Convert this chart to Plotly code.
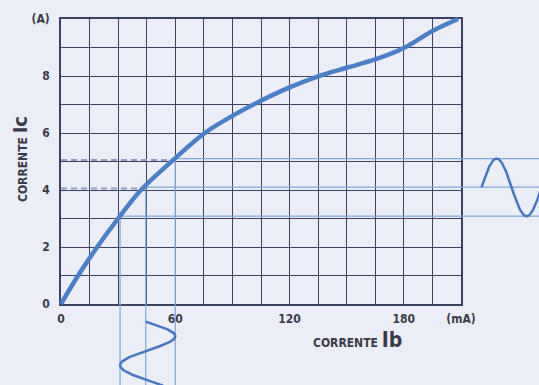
import numpy as np
import plotly.graph_objects as go

# ---- data ----
ib_ma = [0, 9, 19, 30, 42, 58, 75.5, 90, 101, 120, 135, 150, 165, 180, 195, 208.5]
ic_a = [0, 1, 2, 3, 4, 5, 6, 6.6, 7.0, 7.6, 7.99, 8.29, 8.58, 8.98, 9.58, 10.0]

x_ticks = [0, 15, 30, 45, 60, 75, 90, 105, 120, 135, 150, 165, 180, 195, 210]
x_ticktext = ["0", "", "", "", "60", "", "", "", "120", "", "", "", "180", "", "(mA)"]
y_ticks = [0, 1, 2, 3, 4, 5, 6, 7, 8, 9, 10]
y_ticktext = ["0", "", "2", "", "4", "", "6", "", "8", "", "(A)"]

# operating points used for the construction lines
op_ib = [31, 44.5, 60]      # input swing: min, centre, max (mA)
op_ic = [3.08, 4.1, 5.1]    # output swing: min, centre, max (A)

W, H = 539, 385
X_RANGE = [0, 210]
Y_RANGE = [0, 10]
x_dom = [61 / W, 461 / W]
y_dom = [(H - 304) / H, (H - 19) / H]

# full-figure overlay axis ranges matching the data scale
def full_range(rng, dom):
    span = (rng[1] - rng[0]) / (dom[1] - dom[0])
    return [rng[0] - dom[0] * span, rng[1] + (1 - dom[1]) * span]

x2_rng = full_range(X_RANGE, x_dom)
y2_rng = full_range(Y_RANGE, y_dom)

PAPER = "#eceef7"
GRID = "#3d4260"
THIN = "#7ea7da"
CURVE = "#4b80c8"
WAVE = "#4677c0"
DASH = "#8d9cc2"
TXT = "#3a3b4a"
FONT = "DejaVu Sans Condensed, Liberation Sans Narrow, Roboto, sans-serif"

fig = go.Figure()

# invisible trace to anchor the main axes
fig.add_trace(go.Scatter(x=[0], y=[0], mode="markers", marker=dict(opacity=0),
                         showlegend=False, hoverinfo="skip", xaxis="x", yaxis="y"))

def curve_at(v):
    return float(np.interp(v, ib_ma, ic_a))

def ib_at(v):
    return float(np.interp(v, ic_a, ib_ma))

# dashed lines from axis to curve (levels 4, 5)
for lvl in op_ic[1:]:
    fig.add_trace(go.Scatter(x=[X_RANGE[0], ib_at(lvl)], y=[lvl - 0.05, lvl - 0.05],
                             mode="lines", line=dict(color=DASH, width=2, dash="6px,4px"),
                             xaxis="x2", yaxis="y2", showlegend=False, hoverinfo="skip"))

# horizontal construction lines from curve to right edge
for lvl in op_ic:
    fig.add_trace(go.Scatter(x=[ib_at(lvl), x2_rng[1]], y=[lvl, lvl],
                             mode="lines", line=dict(color=THIN, width=1.2),
                             xaxis="x2", yaxis="y2", showlegend=False, hoverinfo="skip"))

# vertical construction lines from curve to bottom edge
for v in op_ib:
    fig.add_trace(go.Scatter(x=[v, v], y=[curve_at(v), y2_rng[0]],
                             mode="lines", line=dict(color=THIN, width=1.2),
                             xaxis="x2", yaxis="y2", showlegend=False, hoverinfo="skip"))

# output waveform (right side), time running to the right
t_out = np.linspace(0, 1.0, 120)
out_start = 220.8
out_period = 31.5
amp_up = op_ic[2] - op_ic[1]
amp_dn = op_ic[1] - op_ic[0]
s = np.sin(2 * np.pi * t_out)
out_y = op_ic[1] + np.where(s >= 0, amp_up, amp_dn) * s
out_x = out_start + out_period * t_out
fig.add_trace(go.Scatter(x=out_x, y=out_y, mode="lines", line=dict(color=WAVE, width=2.5),
                         xaxis="x2", yaxis="y2", showlegend=False, hoverinfo="skip"))

# input waveform (below), time running downward
t_in = np.linspace(0, 1.1, 130)
in_start = -0.62
in_period = 2.04
amp_r = op_ib[2] - op_ib[1]
amp_l = op_ib[1] - op_ib[0]
s2 = np.sin(2 * np.pi * t_in)
in_x = op_ib[1] + np.where(s2 >= 0, amp_r, amp_l) * s2
in_y = in_start - in_period * t_in
fig.add_trace(go.Scatter(x=in_x, y=in_y, mode="lines", line=dict(color=WAVE, width=2.5),
                         xaxis="x2", yaxis="y2", showlegend=False, hoverinfo="skip"))

# characteristic curve
fig.add_trace(go.Scatter(x=ib_ma, y=ic_a, mode="lines",
                         line=dict(color=CURVE, width=4.5, shape="spline", smoothing=1.0),
                         xaxis="x2", yaxis="y2", showlegend=False, hoverinfo="skip"))

axis_common = dict(showgrid=True, gridcolor=GRID, gridwidth=1.3, zeroline=False,
                   showline=True, linecolor=GRID, linewidth=1.6, mirror=True,
                   ticks="", automargin=False,
                   tickfont=dict(family=FONT, size=12, color=TXT, weight="bold"))

fig.update_layout(
    width=W, height=H,
    margin=dict(l=0, r=0, t=0, b=0, pad=0),
    paper_bgcolor=PAPER, plot_bgcolor="rgba(0,0,0,0)",
    xaxis=dict(domain=x_dom, range=X_RANGE, tickmode="array", tickvals=x_ticks,
               ticktext=x_ticktext, ticklabelstandoff=3, anchor="y", **axis_common),
    yaxis=dict(domain=y_dom, range=Y_RANGE, tickmode="array", tickvals=y_ticks,
               ticktext=y_ticktext, ticklabelstandoff=7, anchor="x", **axis_common),
    xaxis2=dict(domain=[0, 1], range=x2_rng, visible=False, anchor="y2",
                fixedrange=True, automargin=False),
    yaxis2=dict(domain=[0, 1], range=y2_rng, visible=False, anchor="x2",
                fixedrange=True, automargin=False),
    showlegend=False,
)

fig.add_annotation(
    xref="paper", yref="paper", x=20 / W, y=1 - 159 / H, textangle=-90,
    text="CORRENTE <span style='font-size:20px'>Ic</span>",
    showarrow=False, font=dict(family=FONT, size=12, color=TXT, weight="bold"),
    xanchor="center", yanchor="middle",
)
fig.add_annotation(
    xref="paper", yref="paper", x=357 / W, y=1 - 340 / H,
    text="CORRENTE <span style='font-size:21px'>Ib</span>",
    showarrow=False, font=dict(family=FONT, size=12, color=TXT, weight="bold"),
    xanchor="center", yanchor="middle",
)

fig.write_html("out.html",
               config={"displayModeBar": False},
               post_script="document.body.style.margin='0';document.body.style.background='%s';" % PAPER)
